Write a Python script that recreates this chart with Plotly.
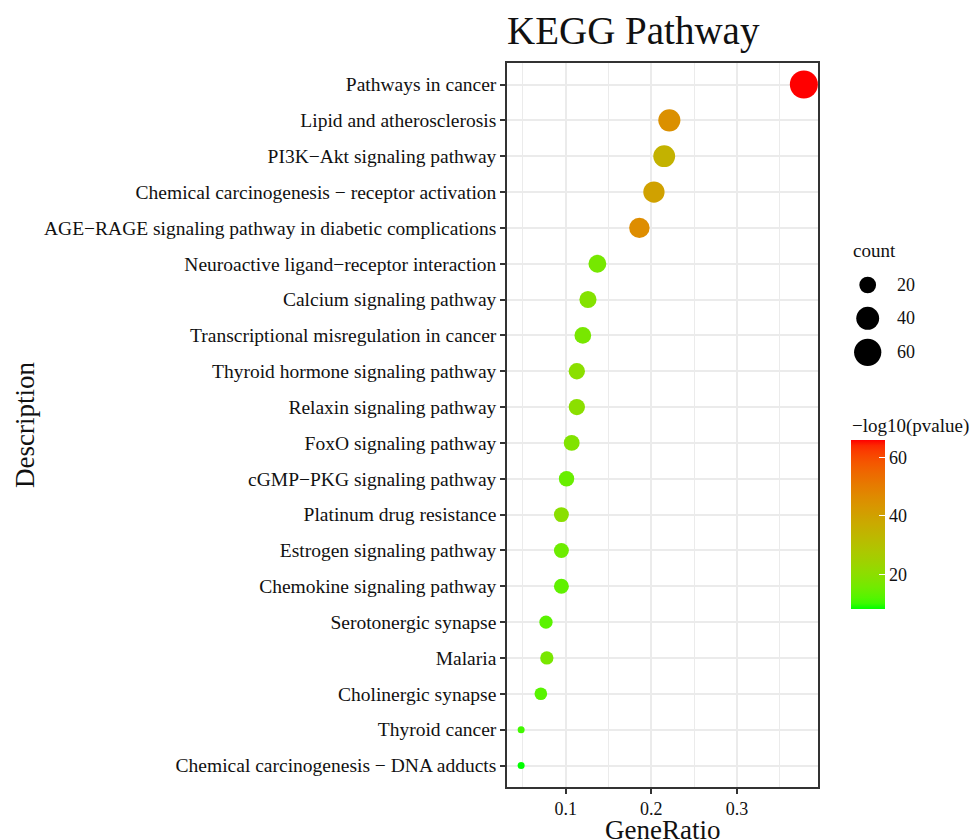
import numpy as np
import plotly.graph_objects as go

# ---------------- data ----------------
pathways = [
    "Pathways in cancer",
    "Lipid and atherosclerosis",
    "PI3K\u2212Akt signaling pathway",
    "Chemical carcinogenesis \u2212 receptor activation",
    "AGE\u2212RAGE signaling pathway in diabetic complications",
    "Neuroactive ligand\u2212receptor interaction",
    "Calcium signaling pathway",
    "Transcriptional misregulation in cancer",
    "Thyroid hormone signaling pathway",
    "Relaxin signaling pathway",
    "FoxO signaling pathway",
    "cGMP\u2212PKG signaling pathway",
    "Platinum drug resistance",
    "Estrogen signaling pathway",
    "Chemokine signaling pathway",
    "Serotonergic synapse",
    "Malaria",
    "Cholinergic synapse",
    "Thyroid cancer",
    "Chemical carcinogenesis \u2212 DNA adducts",
]
gene_ratio = [0.378, 0.221, 0.215, 0.203, 0.186, 0.137, 0.126, 0.120, 0.113, 0.113,
              0.107, 0.101, 0.095, 0.095, 0.095, 0.077, 0.078, 0.071, 0.048, 0.048]
gene_count = [64, 37, 36, 34, 31, 23, 21, 20, 19, 19,
              18, 17, 16, 16, 16, 13, 13, 12, 8, 8]
neg_log10_p = [65.9, 45.0, 35.0, 40.0, 46.0, 16.5, 18.8, 16.8, 20.0, 20.0,
               18.3, 14.5, 19.8, 15.2, 13.5, 12.8, 17.0, 12.6, 10.6, 8.3]

size_breaks = [20, 40, 60]
color_ticks = [20, 40, 60]
x_ticks = [0.1, 0.2, 0.3]

# ---------------- styling helpers ----------------
FONT = "Liberation Serif"
TXT = "#111111"
FIG_W, FIG_H = 972, 840
PANEL_L, PANEL_R, PANEL_T, PANEL_B = 507, 818, 63, 787
D_MIN, D_MAX = 7.0, 28.0

cmin_cnt, cmax_cnt = min(gene_count), max(gene_count)


def diam(c):
    return D_MIN + (D_MAX - D_MIN) * np.sqrt((c - cmin_cnt) / (cmax_cnt - cmin_cnt))


XN, YN, ZN = 0.95047, 1.0, 1.08883


def hex_to_lab(h):
    rgb = [int(h[i:i + 2], 16) / 255 for i in (1, 3, 5)]
    lin = [c / 12.92 if c <= 0.04045 else ((c + 0.055) / 1.055) ** 2.4 for c in rgb]
    R, G, B = lin
    X = 0.4124 * R + 0.3576 * G + 0.1805 * B
    Y = 0.2126 * R + 0.7152 * G + 0.0722 * B
    Z = 0.0193 * R + 0.1192 * G + 0.9505 * B
    f = lambda t: t ** (1 / 3) if t > 0.008856 else 7.787 * t + 16 / 116
    fx, fy, fz = f(X / XN), f(Y / YN), f(Z / ZN)
    return 116 * fy - 16, 500 * (fx - fy), 200 * (fy - fz)


def lab_to_hex(L, a, b):
    fy = (L + 16) / 116
    fx = fy + a / 500
    fz = fy - b / 200
    finv = lambda t: t ** 3 if t ** 3 > 0.008856 else (t - 16 / 116) / 7.787
    X, Y, Z = finv(fx) * XN, finv(fy) * YN, finv(fz) * ZN
    R = 3.2406 * X - 1.5372 * Y - 0.4986 * Z
    G = -0.9689 * X + 1.8758 * Y + 0.0415 * Z
    B = 0.0557 * X - 0.2040 * Y + 1.0570 * Z
    out = []
    for c in (R, G, B):
        c = 12.92 * c if c <= 0.0031308 else 1.055 * (max(c, 0) ** (1 / 2.4)) - 0.055
        out.append(int(round(min(max(c, 0), 1) * 255)))
    return "#%02x%02x%02x" % tuple(out)


lab_lo, lab_hi = hex_to_lab("#00ff00"), hex_to_lab("#ff0000")
colorscale = []
for t in np.linspace(0, 1, 31):
    lab = [lo + (hi - lo) * t for lo, hi in zip(lab_lo, lab_hi)]
    colorscale.append([float(t), lab_to_hex(*lab)])

paper_w = FIG_W - PANEL_L
main_dom_r = (PANEL_R - PANEL_L) / paper_w
leg_left = 840
size_leg_y = [285, 318.3, 352.3]

fig = go.Figure()

fig.add_trace(go.Scatter(
    x=gene_ratio, y=pathways, mode="markers",
    marker=dict(
        size=[diam(c) for c in gene_count],
        color=neg_log10_p, colorscale=colorscale,
        cmin=min(neg_log10_p), cmax=max(neg_log10_p),
        line=dict(width=0), opacity=1,
        showscale=True,
        colorbar=dict(
            xref="paper", x=(851 - PANEL_L) / paper_w, xanchor="left", xpad=0,
            yref="paper", y=(PANEL_B - 609) / (PANEL_B - PANEL_T), yanchor="bottom", ypad=0,
            len=169, lenmode="pixels", thickness=34, thicknessmode="pixels",
            outlinewidth=0, tickvals=color_ticks, tickprefix="\u00a0",
            ticks="inside", ticklen=6, tickcolor="white", tickwidth=1,
            tickfont=dict(family=FONT, size=18, color=TXT),
        ),
    ),
    xaxis="x", yaxis="y", showlegend=False, hoverinfo="x+y",
))

# size legend (on a pixel-mapped helper axis)
fig.add_trace(go.Scatter(
    x=[867.7] * len(size_breaks), y=size_leg_y, mode="markers",
    marker=dict(size=[diam(v) for v in size_breaks], color="#000000",
                opacity=1, line=dict(width=0)),
    xaxis="x2", yaxis="y2", showlegend=False, hoverinfo="skip",
))

annotations = []
for v, yy in zip(size_breaks, size_leg_y):
    annotations.append(dict(x=895, y=yy, xref="x2", yref="y2", text=str(v), showarrow=False,
                            xanchor="left", yanchor="middle",
                            font=dict(family=FONT, size=18, color=TXT)))
annotations.append(dict(x=851, y=250, xref="x2", yref="y2", text="count", showarrow=False,
                        xanchor="left", yanchor="middle",
                        font=dict(family=FONT, size=19, color=TXT)))
annotations.append(dict(x=850, y=426, xref="x2", yref="y2", text="\u2212log10(pvalue)",
                        showarrow=False, xanchor="left", yanchor="middle",
                        font=dict(family=FONT, size=19, color=TXT)))
# axis titles
annotations.append(dict(x=main_dom_r / 2, y=-(830 - PANEL_B) / (PANEL_B - PANEL_T),
                        xref="paper", yref="paper", text="GeneRatio", showarrow=False,
                        xanchor="center", yanchor="middle",
                        font=dict(family=FONT, size=27, color=TXT)))
annotations.append(dict(x=-(PANEL_L - 25) / paper_w, y=0.5, xref="paper", yref="paper",
                        text="Description", showarrow=False, textangle=-90,
                        xanchor="center", yanchor="middle",
                        font=dict(family=FONT, size=27, color=TXT)))

fig.update_layout(
    width=FIG_W, height=FIG_H,
    margin=dict(l=PANEL_L, r=0, t=PANEL_T, b=FIG_H - PANEL_B, autoexpand=False),
    paper_bgcolor="white", plot_bgcolor="white",
    font=dict(family=FONT, color=TXT),
    title=dict(text="KEGG Pathway", font=dict(family=FONT, size=39, color=TXT),
               xref="paper", x=0, xanchor="left",
               yref="container", y=1 - 30 / FIG_H, yanchor="middle"),
    xaxis=dict(
        domain=[0, main_dom_r], range=[0.0315, 0.3945], tickvals=x_ticks,
        ticktext=[str(v) for v in x_ticks],
        showgrid=True, gridcolor="#EBEBEB", gridwidth=2,
        minor=dict(dtick=0.05, tick0=0, showgrid=True, gridcolor="#EBEBEB", gridwidth=1),
        zeroline=False,
        showline=True, linecolor="#333333", linewidth=1.5, mirror=True,
        ticks="outside", ticklen=5, tickwidth=1.5, tickcolor="#333333",
        tickfont=dict(family=FONT, size=18, color=TXT),
        fixedrange=True,
    ),
    yaxis=dict(
        type="category", categoryorder="array", categoryarray=pathways[::-1],
        range=[-0.6, len(pathways) - 0.4],
        showgrid=True, gridcolor="#EBEBEB", gridwidth=2, zeroline=False,
        showline=True, linecolor="#333333", linewidth=1.5, mirror=True,
        ticks="outside", ticklen=5, tickwidth=1.5, tickcolor="#333333",
        tickfont=dict(family=FONT, size=19.5, color=TXT),
        fixedrange=True,
    ),
    xaxis2=dict(domain=[(leg_left - PANEL_L) / paper_w, 1], range=[leg_left, FIG_W],
                anchor="y2", visible=False, fixedrange=True),
    yaxis2=dict(domain=[0, 1], range=[PANEL_B, PANEL_T], anchor="x2",
                visible=False, fixedrange=True),
    annotations=annotations,
)

fig.write_html("out.html")
